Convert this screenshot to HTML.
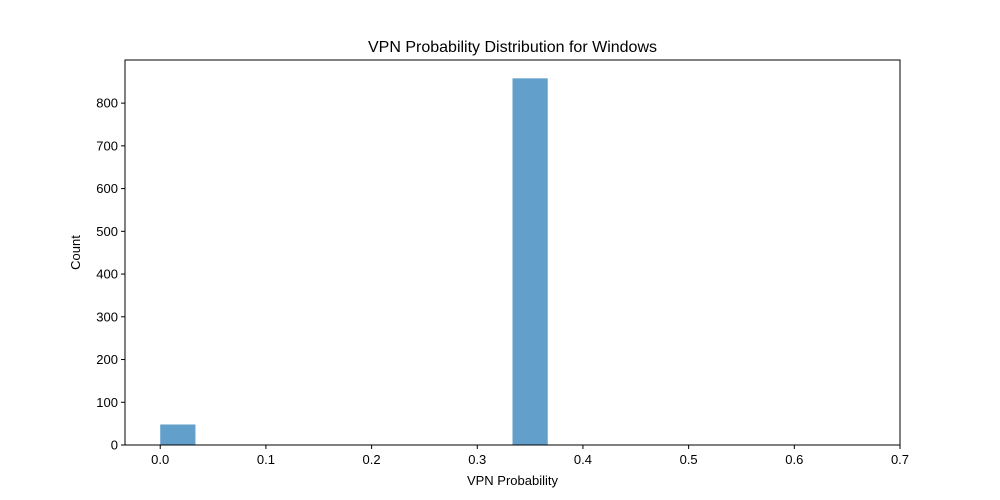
<!DOCTYPE html>
<html>
<head>
<meta charset="utf-8">
<style>
  html, body { margin: 0; padding: 0; background: #fff; }
  svg { display: block; font-family: "Liberation Sans", "DejaVu Sans", sans-serif; }
</style>
</head>
<body>
<svg id="chart" width="1000" height="500" viewBox="0 0 1000 500">
  <rect width="1000" height="500" fill="#fff"></rect>
  <text x="512.5" y="52" text-anchor="middle" font-size="16" fill="#000">VPN Probability Distribution for Windows</text>
  <g id="bars"></g>
  <g id="xticks"></g>
  <g id="yticks"></g>
  <rect x="125" y="60" width="775" height="385" fill="none" stroke="#000" stroke-width="1"></rect>
  <text x="512.5" y="485" text-anchor="middle" font-size="13" fill="#000">VPN Probability</text>
  <text x="80" y="252.5" text-anchor="middle" font-size="13" fill="#000" transform="rotate(-90 80 252.5)">Count</text>
</svg>
<script>
const binStart = 0;
const binWidth = 0.6667 / 20;
const binCounts = [48, 0, 0, 0, 0, 0, 0, 0, 0, 0, 858, 0, 0, 0, 0, 0, 0, 0, 0, 0];
const xTickValues = [0.0, 0.1, 0.2, 0.3, 0.4, 0.5, 0.6, 0.7];
const xTickLabels = ["0.0", "0.1", "0.2", "0.3", "0.4", "0.5", "0.6", "0.7"];
const yTickValues = [0, 100, 200, 300, 400, 500, 600, 700, 800];
const yTickLabels = ["0", "100", "200", "300", "400", "500", "600", "700", "800"];

const L = 125, R = 900, T = 60, B = 445;
const xMin = -0.03333, xMax = 0.7;
const yMax = Math.max(...binCounts) * 1.05;
const xs = v => L + (v - xMin) / (xMax - xMin) * (R - L);
const ys = v => B - v / yMax * (B - T);
const NS = "http://www.w3.org/2000/svg";

const barsG = document.getElementById('bars');
binCounts.forEach((c, i) => {
  if (c <= 0) return;
  const x0 = xs(binStart + i * binWidth), x1 = xs(binStart + (i + 1) * binWidth);
  const r = document.createElementNS(NS, 'rect');
  r.setAttribute('x', x0);
  r.setAttribute('y', ys(c));
  r.setAttribute('width', x1 - x0);
  r.setAttribute('height', B - ys(c));
  r.setAttribute('fill', '#629fca');
  
  
  barsG.appendChild(r);
});

const xg = document.getElementById('xticks');
xTickValues.forEach((v, i) => {
  const x = xs(v);
  const l = document.createElementNS(NS, 'line');
  l.setAttribute('x1', x); l.setAttribute('x2', x);
  l.setAttribute('y1', B); l.setAttribute('y2', B + 4);
  l.setAttribute('stroke', '#000');
  
  
  xg.appendChild(l);
  const t = document.createElementNS(NS, 'text');
  t.setAttribute('x', x); t.setAttribute('y', B + 19);
  t.setAttribute('text-anchor', 'middle');
  t.setAttribute('font-size', '13');
  t.textContent = xTickLabels[i];
  
  
  xg.appendChild(t);
});

const yg = document.getElementById('yticks');
yTickValues.forEach((v, i) => {
  const y = ys(v);
  const l = document.createElementNS(NS, 'line');
  l.setAttribute('x1', L - 4); l.setAttribute('x2', L);
  l.setAttribute('y1', y); l.setAttribute('y2', y);
  l.setAttribute('stroke', '#000');
  
  
  yg.appendChild(l);
  const t = document.createElementNS(NS, 'text');
  t.setAttribute('x', L - 7); t.setAttribute('y', y + 4.5);
  t.setAttribute('text-anchor', 'end');
  t.setAttribute('font-size', '13');
  t.textContent = yTickLabels[i];
  
  
  yg.appendChild(t);
});
</script>
</body>
</html>
